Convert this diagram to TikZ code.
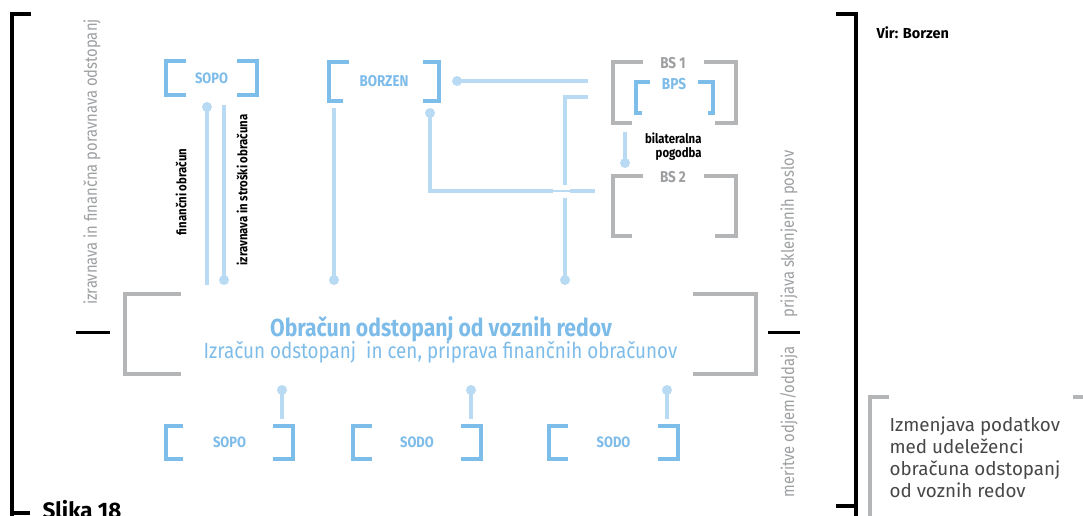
\documentclass[tikz,border=0pt]{standalone}
\usepackage{fontspec}
\setmainfont{Fira Sans}
\newfontfamily\cnd[FakeStretch=0.86]{Fira Sans}
\definecolor{bblue}{HTML}{7DBDEA}
\definecolor{tblue}{HTML}{7DBCE9}
\definecolor{lblue}{HTML}{B9DAF3}
\definecolor{bgray}{HTML}{B3B5B7}
\definecolor{tgray}{HTML}{9C9EA0}
\tikzset{
  box/.style={inner sep=0pt, draw=none},
  bluebr/.style={draw=bblue, line width=4.5pt},
  graybr/.style={draw=bgray, line width=4.5pt},
  blackbr/.style={draw=black, line width=4pt},
  conn/.style={draw=lblue, line width=4pt},
  thinconn/.style={draw=lblue, line width=1.5pt},
  dot/.style={circle, fill=lblue, inner sep=0pt, minimum size=10pt},
  blab/.style={text=tblue, font=\cnd\bfseries\fontsize{15}{17}\selectfont},
  glab/.style={text=tgray, font=\cnd\bfseries\fontsize{15.7}{18}\selectfont},
  small/.style={text=black, font=\cnd\bfseries\fontsize{13.2}{14}\selectfont},
  rot/.style={text=tgray, rotate=90, font=\cnd\fontsize{17.2}{19}\selectfont},
}
% bracket: node, style, left-top, left-bottom, right-top, right-bottom tick lengths
\newcommand\brk[6]{%
  \draw[#2] ([xshift=#3pt]#1.north west) -- (#1.north west) -- (#1.south west) -- ([xshift=#4pt]#1.south west);
  \draw[#2] ([xshift=-#5pt]#1.north east) -- (#1.north east) -- (#1.south east) -- ([xshift=-#6pt]#1.south east);
}
\begin{document}
\begin{tikzpicture}[x=1pt,y=-1pt]
\useasboundingbox (0,0) rectangle (1083,515);

% outer black brackets
\draw[blackbr] (31,14) -- (12,14) -- (12,520);
\draw[blackbr] (12,513) -- (30,513);
\draw[blackbr] (836,14) -- (856,14) -- (856,520);
\draw[blackbr] (836,506) -- (856,506);
\node[anchor=base west, font=\bfseries\fontsize{22.4}{24}\selectfont] (slika) at (39,518.5) {Slika 18};
\node[anchor=west, font=\bfseries\fontsize{14.5}{16}\selectfont] (vir) at (873,33) {Vir: Borzen};

% side rotated labels
\node[rot] (leftlab) at (92,162) {izravnava in finančna poravnava odstopanj};
\draw[draw=black, line width=3pt] (76,332) -- (110,332);
\node[rot] (prij) at (789,234) {prijava sklenjenih poslov};
\node[rot] (meri) at (789,422) {meritve odjem/oddaja};
\draw[draw=black, line width=3pt] (768,332) -- (800,332);

% top nodes
\node[box, minimum width=91pt, minimum height=34pt, blab] (sopoT) at (211.5,78) {SOPO};
\brk{sopoT}{bluebr}{20}{20}{20}{20}
\node[box, minimum width=110pt, minimum height=39pt, blab, font=\cnd\bfseries\fontsize{15.6}{17}\selectfont] (borzen) at (384,81.5) {BORZEN};
\brk{borzen}{bluebr}{20}{14}{16}{16}

\node[box, minimum width=123pt, minimum height=61pt] (bs1) at (674.5,92.5) {};
\brk{bs1}{graybr}{30}{19}{32}{21}
\node[glab] (bs1t) at (673,63) {BS 1};
\node[box, minimum width=77pt, minimum height=31pt] (bps) at (674.5,97.5) {};
\brk{bps}{bluebr}{14}{6}{15}{5}
\node[blab, font=\cnd\bfseries\fontsize{15.8}{18}\selectfont] (bpst) at (674,84) {BPS};
\node[box, minimum width=123pt, minimum height=60pt] (bs2) at (674.5,206) {};
\brk{bs2}{graybr}{30}{19}{32}{21}
\node[glab] (bs2t) at (673,177) {BS 2};
\node[small, align=right, anchor=east] (bilat) at (705,147) {bilateralna\\pogodba};

% main box
\node[box, minimum width=631pt, minimum height=80pt] (main) at (440.5,334) {};
\brk{main}{graybr}{56}{56}{63}{63}
\node[text=tblue, font=\cnd\bfseries\fontsize{24.6}{26}\selectfont] (mt1) at (441,329) {Obračun odstopanj od voznih redov};
\node[text=tblue, font=\cnd\fontsize{21.9}{24}\selectfont] (mt2) at (440.5,352) {Izračun odstopanj\ \ in cen, priprava finančnih obračunov};

% bottom nodes
\node[box, minimum width=127pt, minimum height=33pt, blab] (sopoB) at (229.5,442.5) {SOPO};
\brk{sopoB}{bluebr}{17}{17}{20}{20}
\node[box, minimum width=128pt, minimum height=33pt, blab] (sodo1) at (417,442.5) {SODO};
\brk{sodo1}{bluebr}{19}{19}{20}{20}
\node[box, minimum width=129pt, minimum height=33pt, blab] (sodo2) at (613.5,442.5) {SODO};
\brk{sodo2}{bluebr}{19}{19}{20}{20}

% rotated small labels
\node[small, rotate=90] (finob) at (181,192) {finančni obračun};
\node[small, rotate=90] (izst) at (242,190) {izravnava in stroški obračuna};

% connector coordinates
\coordinate (c1a) at (207,107); \coordinate (c1b) at (207,285);
\coordinate (c2a) at (224,105); \coordinate (c2b) at (224,280);
\coordinate (c3a) at (334,108); \coordinate (c3b) at (334,280);
\coordinate (c4a) at (457,81);  \coordinate (c4b) at (588,81);
\coordinate (c5a) at (430,113); \coordinate (c5b) at (430,191);
\coordinate (c5g1) at (553,191); \coordinate (c5g2) at (570,191); \coordinate (c5c) at (595,191);
\coordinate (c6a) at (588,97); \coordinate (c6b) at (565,97); \coordinate (c6g1) at (565,185);
\coordinate (c6g2) at (565,198); \coordinate (c6c) at (565,280);
\coordinate (c7a) at (625,132); \coordinate (c7b) at (625,163);
\coordinate (b1a) at (282,390); \coordinate (b1b) at (282,419);
\coordinate (b2a) at (471,390); \coordinate (b2b) at (471,419);
\coordinate (b3a) at (667,390); \coordinate (b3b) at (667,419);

\draw[conn] (c1a) -- (c1b); \node[dot] at (c1a) {};
\draw[conn] (c2a) -- (c2b); \node[dot] at (c2b) {};
\draw[conn] (c3a) -- (c3b); \node[dot] at (c3b) {};
\draw[conn] (c4a) -- (c4b); \node[dot] at (c4a) {};
\draw[conn] (c5a) -- (c5b) -- (c5g1); \draw[thinconn] (c5g1) -- (c5g2); \draw[conn] (c5g2) -- (c5c); \node[dot] at (c5a) {};
\draw[conn] (c6a) -- (c6b) -- (c6g1); \draw[conn] (c6g2) -- (c6c); \node[dot] at (c6c) {};
\draw[conn] (c7a) -- (c7b); \node[dot] at (c7b) {};
\draw[conn] (b1a) -- (b1b); \node[dot] at (b1a) {};
\draw[conn] (b2a) -- (b2b); \node[dot] at (b2a) {};
\draw[conn] (b3a) -- (b3b); \node[dot] at (b3a) {};

% legend
\draw[graybr] (889,397) -- (870,397) -- (870,520);
\draw[graybr] (1073,397) -- (1090,397);
\node[anchor=north west, align=left, text=black!72, font=\fontsize{18.8}{22.2}\selectfont] (legend) at (886,413) {Izmenjava podatkov\\med udeleženci\\obračuna odstopanj\\od voznih redov};
\end{tikzpicture}
\end{document}
